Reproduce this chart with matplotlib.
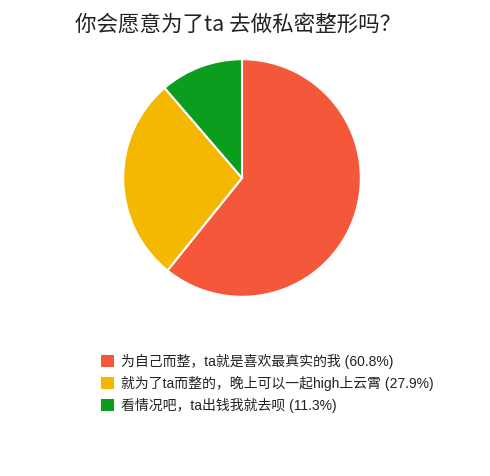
import matplotlib
matplotlib.use("Agg")
import matplotlib.pyplot as plt
from matplotlib.patches import Rectangle

title = "你会愿意为了ta 去做私密整形吗？"
labels = ["为自己而整，ta就是喜欢最真实的我", "就为了ta而整的，晚上可以一起high上云霄", "看情况吧，ta出钱我就去呗"]
values = [60.8, 27.9, 11.3]
colors = ["#f4573a", "#f4b800", "#0c9d1e"]

fams = ["Liberation Sans", "Noto Sans CJK SC", "DejaVu Sans"]
plt.rcParams["font.family"] = fams

W, H = 490, 476
fig = plt.figure(figsize=(W / 100, H / 100), dpi=100)
fig.patch.set_facecolor("white")

cx, cy, r = 242, 178, 120
ax = fig.add_axes([(cx - r) / W, (H - cy - r) / H, 2 * r / W, 2 * r / H])
ax.pie(values, colors=colors, startangle=90, counterclock=False, radius=1,
       wedgeprops=dict(edgecolor="white", linewidth=1.5))
ax.set_xlim(-1.01, 1.01)
ax.set_ylim(-1.01, 1.01)
ax.set_aspect("equal")
ax.axis("off")

fig.text(75 / W, 1 - 25 / H, title, ha="left", va="center", fontsize=15.5,
         color="#222222", family=["Noto Sans CJK SC", "DejaVu Sans"])

row_y = [361, 383, 405]
for lab, val, col, y in zip(labels, values, colors, row_y):
    fig.patches.append(Rectangle((101 / W, 1 - (y + 6) / H), 13 / W, 12 / H,
                                 transform=fig.transFigure, facecolor=col, edgecolor="none"))
    fig.text(121 / W, 1 - y / H, f"{lab} ({val}%)", ha="left", va="center",
             fontsize=10, color="#222222")

fig.savefig("out.png", dpi=100, facecolor="white")
